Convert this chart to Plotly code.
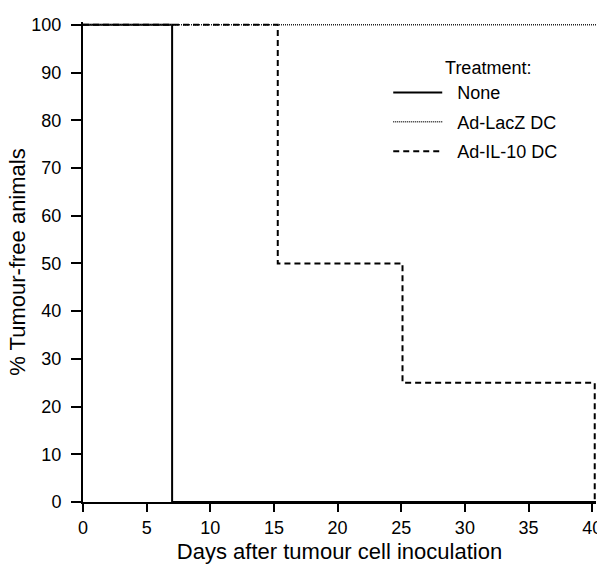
import plotly.graph_objects as go

# Data
none_days = [0, 7, 40.3]
none_pct = [100, 0, 0]
lacz_days = [0, 40.3]
lacz_pct = [100, 100]
il10_days = [0, 15.3, 25.1, 40.2]
il10_pct = [100, 50, 25, 0]
x_ticks = [0, 5, 10, 15, 20, 25, 30, 35, 40]
y_ticks = [0, 10, 20, 30, 40, 50, 60, 70, 80, 90, 100]

NB = "\u00a0\u00a0"
FONT = "Liberation Sans, Arial, sans-serif"

fig = go.Figure()
fig.add_trace(go.Scatter(x=none_days, y=none_pct, mode="lines", line_shape="hv",
                         name=NB + "None", legendgroup="a",
                         line=dict(color="black", width=2)))
fig.add_trace(go.Scatter(x=lacz_days, y=lacz_pct, mode="lines", line_shape="hv",
                         name=NB + "Ad-LacZ DC", legendgroup="b",
                         line=dict(color="#222222", width=1.5, dash="1px,1px")))
fig.add_trace(go.Scatter(x=il10_days, y=il10_pct, mode="lines", line_shape="hv",
                         name=NB + "Ad-IL-10 DC", legendgroup="c",
                         line=dict(color="black", width=2, dash="6px,4px")))

fig.update_layout(
    width=597, height=564,
    margin=dict(l=83, r=1, t=22, b=62),
    plot_bgcolor="white", paper_bgcolor="white",
    font=dict(family=FONT, size=18, color="black"),
    legend=dict(
        x=0.595, y=0.94, xanchor="left", yanchor="top",
        title=dict(text="\u00a0" * 5 + "Treatment:", side="top center", font=dict(size=18)),
        traceorder="grouped", tracegroupgap=3,
        itemwidth=49, bgcolor="rgba(0,0,0,0)",
        font=dict(size=18),
    ),
    xaxis=dict(
        range=[0, 40.3], tickvals=x_ticks, ticks="outside", ticklen=8, tickwidth=2,
        tickcolor="black", showline=True, linewidth=2, linecolor="black",
        showgrid=False, zeroline=False, ticklabeloverflow="allow", automargin=False,
        title=dict(text="Days after tumour cell inoculation", standoff=12),
    ),
    yaxis=dict(
        range=[0, 100.6], tickvals=y_ticks, ticks="outside", ticklen=10, tickwidth=2,
        tickcolor="black", showline=True, linewidth=2, linecolor="black",
        showgrid=False, zeroline=False, ticklabelstandoff=6, automargin=False,
        title=dict(text="% Tumour-free animals", standoff=0),
    ),
)

fig.write_html("out.html")
